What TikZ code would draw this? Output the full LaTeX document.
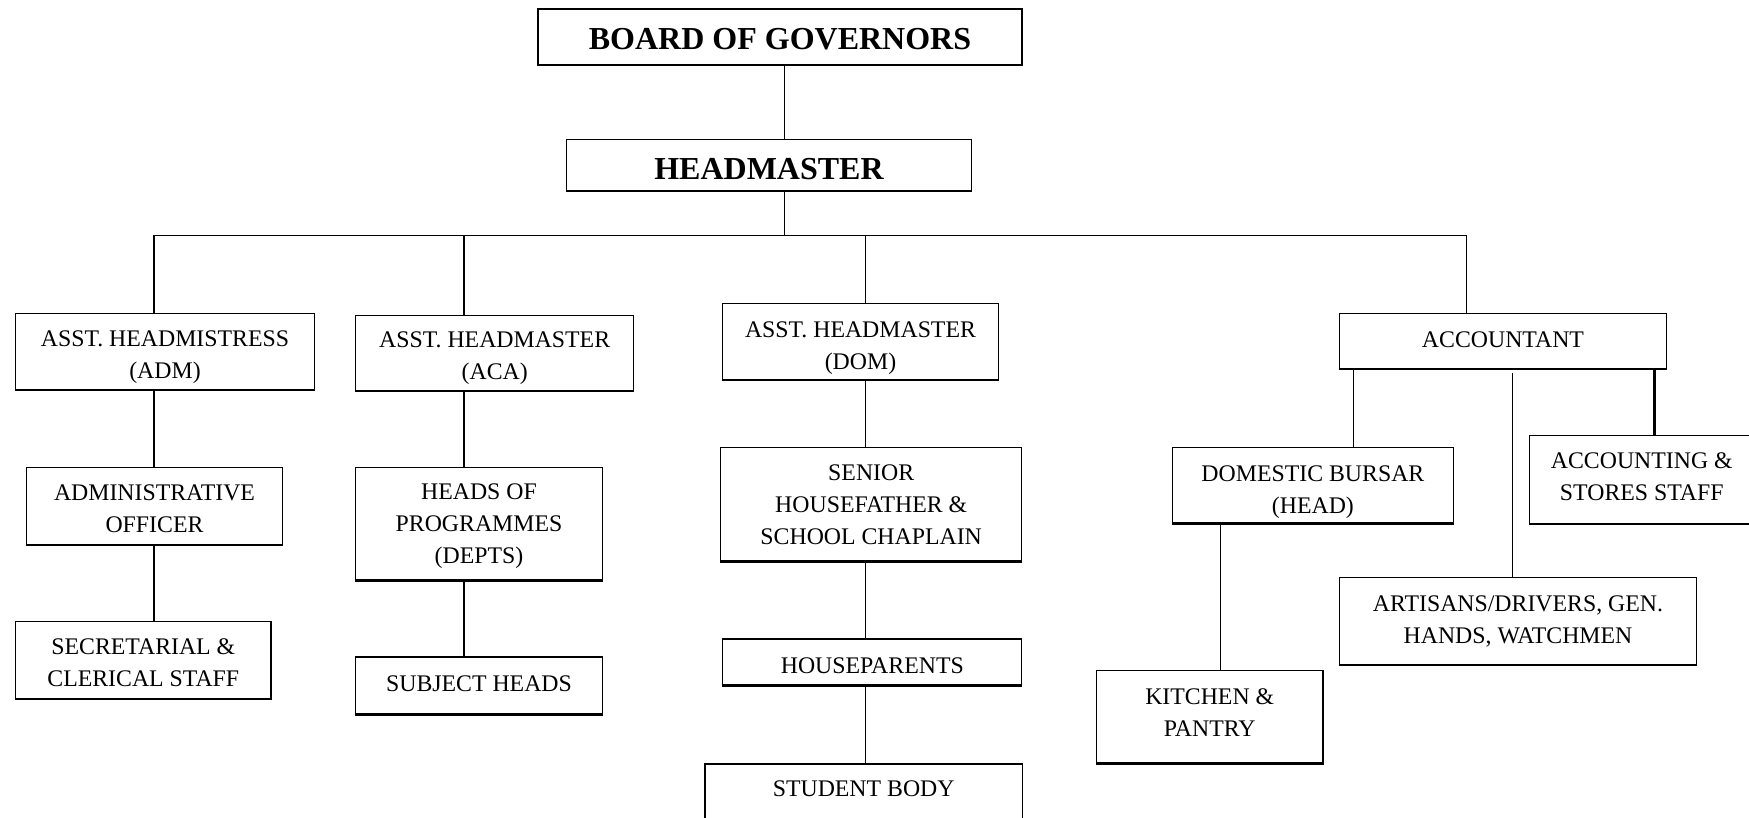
\documentclass[tikz,border=0pt]{standalone}
\usepackage{fontspec}
\setmainfont{Liberation Serif}
\begin{document}
\begin{tikzpicture}[x=1pt,y=-1pt,
  box/.style={draw, line width=1.3pt, inner sep=0pt, align=center,
    font=\fontsize{23.8}{32}\selectfont,
    append after command={(\tikzlastnode.south west) edge[draw, line width=2pt] (\tikzlastnode.south east)}},
  txt/.style={inner sep=0pt, align=center, font=\fontsize{23.8}{32}\selectfont},
  bigtxt/.style={inner sep=0pt, align=center, font=\fontsize{32}{38}\selectfont\bfseries},
  tx/.style 2 args={label={[txt,yshift=#1]center:{#2}}},
  btx/.style 2 args={label={[bigtxt,yshift=#1]center:{#2}}},
  link/.style={line width=1.2pt}]
\useasboundingbox (0,0) rectangle (1749,818);

\node[box, minimum width=484pt, minimum height=55.5pt, btx={-2.2pt}{BOARD OF GOVERNORS}] (board) at (780,36.7) {};
\node[box, minimum width=405pt, minimum height=51.3pt, btx={-4.5pt}{HEADMASTER}] (head) at (769,165) {};
\node[box, minimum width=299pt, minimum height=76pt, tx={-6pt}{ASST. HEADMISTRESS\\(ADM)}] (ahm) at (165,351.5) {};
\node[box, minimum width=277.8pt, minimum height=74.7pt, tx={-5pt}{ASST. HEADMASTER\\(ACA)}] (aca) at (494.7,353) {};
\node[box, minimum width=275.5pt, minimum height=75.8pt, tx={-6.7pt}{ASST. HEADMASTER\\(DOM)}] (dom) at (860.5,341.3) {};
\node[box, minimum width=326.8pt, minimum height=55pt, tx={1pt}{ACCOUNTANT}] (acct) at (1503,340.8) {};
\node[box, minimum width=255.4pt, minimum height=77pt, tx={-3.3pt}{ADMINISTRATIVE\\OFFICER}] (admo) at (154.5,505.8) {};
\node[box, minimum width=255.4pt, minimum height=77pt, tx={-2.8pt}{SECRETARIAL \&\\CLERICAL STAFF}] (sec) at (143.3,659.7) {};
\node[box, minimum width=246.5pt, minimum height=112.6pt, tx={-2.8pt}{HEADS OF\\PROGRAMMES\\(DEPTS)}] (hop) at (479,523.7) {};
\node[box, minimum width=246.5pt, minimum height=57pt, tx={2.2pt}{SUBJECT HEADS}] (subj) at (479,685.5) {};
\node[box, minimum width=301pt, minimum height=113.7pt, tx={-1pt}{SENIOR\\HOUSEFATHER \&\\SCHOOL CHAPLAIN}] (shf) at (871.2,504.2) {};
\node[box, minimum width=299pt, minimum height=45.8pt, tx={-3.3pt}{HOUSEPARENTS}] (hp) at (872.3,662) {};
\node[box, align=none, anchor=north, minimum width=317.3pt, text height=32.7pt, text depth=70pt] (sb) at (863.7,763.3) {STUDENT BODY};
\node[box, minimum width=281pt, minimum height=75.8pt, tx={-6.5pt}{DOMESTIC BURSAR\\(HEAD)}] (db) at (1312.9,485.2) {};
\node[box, minimum width=225pt, minimum height=88pt, tx={2.2pt}{ACCOUNTING \&\\STORES STAFF}] (acs) at (1641.8,479.2) {};
\node[box, minimum width=357pt, minimum height=87pt, tx={0pt}{ARTISANS/DRIVERS, GEN.\\HANDS, WATCHMEN}] (art) at (1518,621.3) {};
\node[box, minimum width=226.4pt, minimum height=92.6pt, tx={4.5pt}{KITCHEN \&\\PANTRY}] (kit) at (1209.7,716.7) {};

\coordinate (xh) at (784.5,0);
\coordinate (x1) at (153.9,0);
\coordinate (x2) at (464,0);
\coordinate (x3) at (865.6,0);
\coordinate (x4) at (1466.8,0);
\coordinate (bus) at (0,235.3);
\coordinate (xdb) at (1353.3,0);
\coordinate (xacs) at (1654.5,0);
\coordinate (xkit) at (1220.3,0);
\coordinate (artTop) at (1512.7,373.3);

\draw[link] (board.south -| xh) -- (head.north -| xh);
\draw[link] (head.south -| xh) -- (bus -| xh);
\draw[link, line width=1.4pt] (bus -| x1) -- (bus -| x4);
\draw[link] (bus -| x1) -- (ahm.north -| x1);
\draw[link] (bus -| x2) -- (aca.north -| x2);
\draw[link] (bus -| x3) -- (dom.north -| x3);
\draw[link] (bus -| x4) -- (acct.north -| x4);
\draw[link] (ahm.south -| x1) -- (admo.north -| x1);
\draw[link] (admo.south -| x1) -- (sec.north -| x1);
\draw[link] (aca.south -| x2) -- (hop.north -| x2);
\draw[link] (hop.south -| x2) -- (subj.north -| x2);
\draw[link] (dom.south -| x3) -- (shf.north -| x3);
\draw[link] (shf.south -| x3) -- (hp.north -| x3);
\draw[link] (hp.south -| x3) -- (sb.north -| x3);
\draw[link] (acct.south -| xdb) -- (db.north -| xdb);
\draw[link] (artTop) -- (art.north -| artTop);
\draw[link, line width=2.2pt] (acct.south -| xacs) -- (acs.north -| xacs);
\draw[link] (db.south -| xkit) -- (kit.north -| xkit);
\end{tikzpicture}
\end{document}
